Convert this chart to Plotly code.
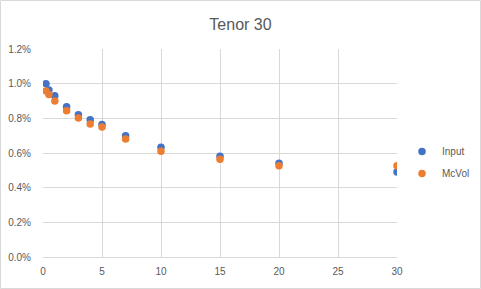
import plotly.graph_objects as go

tenors = [0.25, 0.5, 1, 2, 3, 4, 5, 7, 10, 15, 20, 30]
input_vals = [0.0100, 0.00964, 0.00931, 0.00867, 0.00821, 0.00792, 0.00765, 0.00700, 0.00633, 0.00581, 0.00541, 0.00491]
mcvol_vals = [0.00958, 0.00937, 0.00900, 0.00844, 0.00802, 0.00768, 0.00750, 0.00681, 0.00610, 0.00564, 0.00526, 0.00527]
x_ticks = [0, 5, 10, 15, 20, 25, 30]
y_ticks = [0, 0.002, 0.004, 0.006, 0.008, 0.010, 0.012]
y_labels = ["0.0%", "0.2%", "0.4%", "0.6%", "0.8%", "1.0%", "1.2%"]

W, H = 481, 289
ML, MR, MT, MB = 43, 84, 49, 32
pw, ph = W - ML - MR, H - MT - MB

fig = go.Figure()
fig.add_trace(go.Scatter(x=tenors, y=input_vals, mode="markers", name="Input",
                         marker=dict(color="#4472C4", size=7.5), legendgroup="a"))
fig.add_trace(go.Scatter(x=tenors, y=mcvol_vals, mode="markers", name="McVol",
                         marker=dict(color="#ED7D31", size=7.5), legendgroup="b"))

font = dict(family="Liberation Sans, Arial, sans-serif", color="#595959", size=10)
fig.update_layout(
    width=W, height=H,
    margin=dict(l=ML, r=MR, t=MT, b=MB, autoexpand=False),
    paper_bgcolor="white", plot_bgcolor="white",
    font=font,
    showlegend=True,
    title=dict(text="Tenor 30", x=0.5, xref="container", xanchor="center",
               y=1 - 24 / H, yref="container", yanchor="middle",
               font=dict(family="Liberation Sans, Arial, sans-serif", size=16, color="#595959")),
    xaxis=dict(range=[0, 30], tickvals=x_ticks, showgrid=True, gridcolor="#d9d9d9",
               gridwidth=1, zeroline=False, showline=True, linecolor="#d9d9d9",
               ticks="outside", ticklen=5, tickcolor="rgba(0,0,0,0)", fixedrange=True),
    yaxis=dict(range=[0, 0.012], tickvals=y_ticks, ticktext=y_labels, showgrid=True,
               gridcolor="#d9d9d9", gridwidth=1, zeroline=False, showline=False,
               ticks="outside", ticklen=9, tickcolor="rgba(0,0,0,0)", fixedrange=True),
    legend=dict(x=(402 - ML) / pw, y=1 - (137 - MT) / ph, xanchor="left", yanchor="top",
                bgcolor="rgba(0,0,0,0)", font=font, itemwidth=30, tracegroupgap=3,
                orientation="v"),
    shapes=[dict(type="rect", xref="paper", yref="paper",
                 x0=(0.5 - ML) / pw, x1=(W - 0.5 - ML) / pw,
                 y0=-(H - 0.5 - MT - ph) / ph, y1=1 + (MT - 0.5) / ph,
                 line=dict(color="#d9d9d9", width=1), layer="below")],
)
fig.write_html("out.html", config={"displayModeBar": False},
               post_script="document.body.style.margin='0';document.body.style.overflow='hidden';")
